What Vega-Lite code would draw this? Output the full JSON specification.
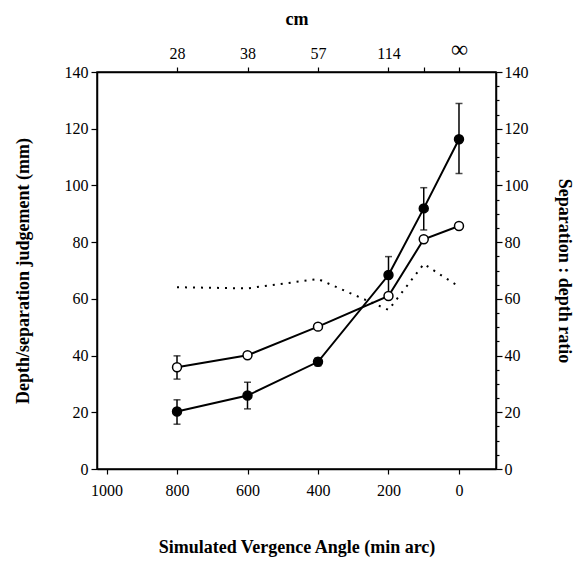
{
  "$schema": "https://vega.github.io/schema/vega-lite/v6.json",
  "width": 399,
  "height": 397,
  "autosize": "none",
  "padding": {"left": 97, "top": 72, "right": 87, "bottom": 95},
  "background": "white",
  "config": {
    "font": "Liberation Serif",
    "view": {"stroke": "black", "strokeWidth": 1.5},
    "axis": {
      "labelFont": "Liberation Serif",
      "titleFont": "Liberation Serif",
      "labelFontSize": 16,
      "titleFontSize": 18,
      "titleFontWeight": "bold",
      "labelColor": "black",
      "titleColor": "black",
      "domainColor": "black",
      "domainWidth": 1.5,
      "tickColor": "black",
      "tickWidth": 1.2,
      "grid": false,
      "labelOverlap": false
    }
  },
  "datasets": {
    "main": [
      {"angle": 800, "group": "filled", "value": 20.3, "lo": 15.8, "hi": 24.4},
      {"angle": 600, "group": "filled", "value": 25.9, "lo": 21.2, "hi": 30.6},
      {"angle": 400, "group": "filled", "value": 37.8, "lo": 36.4, "hi": 39.1},
      {"angle": 200, "group": "filled", "value": 68.4, "lo": 62.0, "hi": 74.9},
      {"angle": 100, "group": "filled", "value": 91.9, "lo": 84.3, "hi": 99.2},
      {"angle": 0, "group": "filled", "value": 116.3, "lo": 104.2, "hi": 128.9},
      {"angle": 800, "group": "open", "value": 35.9, "lo": 31.7, "hi": 39.9},
      {"angle": 600, "group": "open", "value": 40.1, "lo": null, "hi": null},
      {"angle": 400, "group": "open", "value": 50.2, "lo": null, "hi": null},
      {"angle": 200, "group": "open", "value": 61.0, "lo": null, "hi": null},
      {"angle": 100, "group": "open", "value": 81.0, "lo": null, "hi": null},
      {"angle": 0, "group": "open", "value": 85.7, "lo": null, "hi": null}
    ],
    "ratio": [
      {"angle": 800, "ratio": 64.1},
      {"angle": 600, "ratio": 63.7},
      {"angle": 400, "ratio": 67.0},
      {"angle": 200, "ratio": 56.1},
      {"angle": 100, "ratio": 72.3},
      {"angle": 0, "ratio": 64.3}
    ]
  },
  "layer": [
    {
      "data": {"name": "main"},
      "encoding": {
        "x": {
          "field": "angle",
          "type": "quantitative",
          "title": "Simulated Vergence Angle (min arc)",
          "scale": {"domain": [-105, 1027], "reverse": true, "nice": false, "zero": false},
          "axis": {
            "orient": "bottom",
            "values": [1000, 800, 600, 400, 200, 0],
            "format": "d",
            "tickSize": 5,
            "labelPadding": 8,
            "titlePadding": 40
          }
        }
      },
      "layer": [
        {
          "mark": {"type": "line", "color": "black", "strokeWidth": 2},
          "encoding": {
            "y": {
              "field": "value",
              "type": "quantitative",
              "title": "Depth/separation judgement (mm)",
              "scale": {"domain": [0, 140], "nice": false},
              "axis": {
                "orient": "left",
                "values": [0,5,10,15,20,25,30,35,40,45,50,55,60,65,70,75,80,85,90,95,100,105,110,115,120,125,130,135,140],
                "labelExpr": "datum.value % 20 == 0 ? datum.label : ''",
                "tickSize": {"condition": {"test": "datum.value % 20 == 0", "value": 6}, "value": 3},
                "labelPadding": 3,
                "titlePadding": 32
              }
            },
            "detail": {"field": "group"}
          }
        },
        {
          "transform": [{"filter": "isValid(datum.lo)"}],
          "mark": {"type": "errorbar", "ticks": {"size": 7, "color": "black", "thickness": 1.5}, "rule": {"color": "black", "strokeWidth": 1.5}},
          "encoding": {
            "y": {"field": "lo", "type": "quantitative", "title": "Depth/separation judgement (mm)"},
            "y2": {"field": "hi"}
          }
        },
        {
          "mark": {"type": "point", "shape": "circle", "size": 80, "stroke": "black", "strokeWidth": 1.5, "filled": true, "opacity": 1},
          "encoding": {
            "y": {"field": "value", "type": "quantitative", "title": "Depth/separation judgement (mm)"},
            "fill": {
              "field": "group",
              "type": "nominal",
              "scale": {"domain": ["filled", "open"], "range": ["black", "white"]},
              "legend": null
            }
          }
        }
      ]
    },
    {
      "data": {"name": "ratio"},
      "mark": {"type": "line", "color": "black", "strokeWidth": 2, "strokeDash": [2, 6]},
      "encoding": {
        "x": {
          "field": "angle",
          "type": "quantitative",
          "title": "cm",
          "scale": {"domain": [-105, 1027], "reverse": true, "nice": false, "zero": false},
          "axis": {
            "orient": "top",
            "values": [800, 600, 400, 200, 100, 0],
            "labelExpr": "datum.value == 800 ? '28' : datum.value == 600 ? '38' : datum.value == 400 ? '57' : datum.value == 200 ? '114' : datum.value == 0 ? '∞' : ''",
            "labelFontSize": {"condition": {"test": "datum.value == 0", "value": 24}, "value": 16},
            "tickSize": 5,
            "labelPadding": 6,
            "titlePadding": 9
          }
        },
        "y": {
          "field": "ratio",
          "type": "quantitative",
          "title": "Separation : depth ratio",
          "scale": {"domain": [0, 140], "nice": false},
          "axis": {
            "orient": "right",
            "values": [0,5,10,15,20,25,30,35,40,45,50,55,60,65,70,75,80,85,90,95,100,105,110,115,120,125,130,135,140],
            "labelExpr": "datum.value % 20 == 0 ? datum.label : ''",
            "tickSize": {"condition": {"test": "datum.value % 20 == 0", "value": 6}, "value": 3},
            "labelPadding": 2,
            "titlePadding": 26
          }
        }
      }
    }
  ],
  "resolve": {
    "scale": {"x": "independent", "y": "independent"},
    "axis": {"x": "independent", "y": "independent"}
  }
}
